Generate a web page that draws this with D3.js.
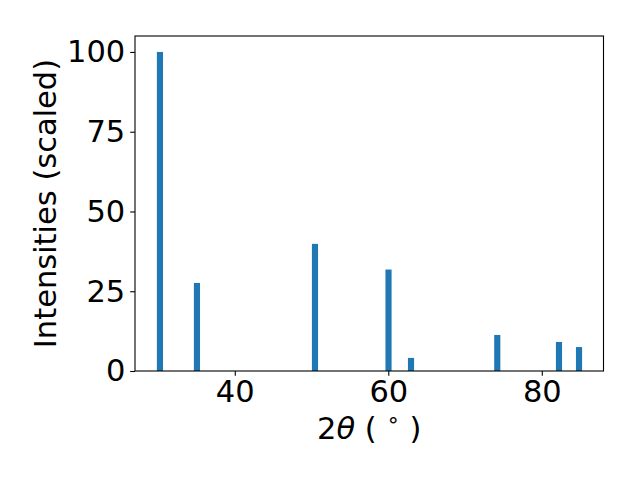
<!DOCTYPE html>
<html><head><meta charset="utf-8">
<script src="https://cdn.jsdelivr.net/npm/d3@7"></script>
<style>body{margin:0;background:#fff}svg{display:block}text{font-family:"DejaVu Sans",sans-serif}</style>
</head><body>
<svg id="c" width="640" height="480"></svg>
<script>
const angles = [30.25, 35.07, 50.45, 60.03, 62.96, 74.2, 82.24, 84.85];
const intensities = [100, 27.6, 39.85, 31.8, 4.1, 11.3, 9.1, 7.5];
const xTicks = [40, 60, 80];
const yTicks = [0, 25, 50, 75, 100];
const yLabel = "Intensities (scaled)";
const barWidth = 0.8;

const svg = d3.select("#c");
const m = {left: 135, right: 603.5, top: 36, bottom: 371};
const fs = 30.5;
const x = d3.scaleLinear().domain([27.0, 88.04]).range([m.left, m.right]);
const y = d3.scaleLinear().domain([0, 105]).range([m.bottom, m.top]);

svg.append("g").selectAll("rect").data(angles).join("rect")
  .attr("x", (d) => x(d - barWidth / 2))
  .attr("width", (d) => x(d + barWidth / 2) - x(d - barWidth / 2))
  .attr("y", (d, i) => y(intensities[i]))
  .attr("height", (d, i) => y(0) - y(intensities[i]))
  .attr("fill", "#1f77b4");

const xAxis = svg.append("g").attr("transform", `translate(0,${m.bottom})`)
  .call(d3.axisBottom(x).tickValues(xTicks).tickSize(4.86).tickPadding(4.86).tickSizeOuter(0));
const yAxis = svg.append("g").attr("transform", `translate(${m.left},0)`)
  .call(d3.axisLeft(y).tickValues(yTicks).tickSize(4.86).tickPadding(4.86).tickSizeOuter(0));
[xAxis, yAxis].forEach(a => {
  a.select(".domain").remove();
  a.selectAll("line").attr("stroke", "#000").attr("stroke-width", 1.1);
  a.selectAll("text").attr("font-size", fs).attr("fill", "#000").attr("font-family", '"DejaVu Sans"');
});

svg.append("rect").attr("x", m.left).attr("y", m.top)
  .attr("width", m.right - m.left).attr("height", m.bottom - m.top)
  .attr("fill", "none").attr("stroke", "#000").attr("stroke-width", 1.1);

const xl = svg.append("text").attr("x", (m.left + m.right) / 2).attr("y", 439)
  .attr("text-anchor", "middle").attr("font-size", fs);
xl.append("tspan").text("2");
xl.append("tspan").attr("font-style", "italic").text("θ");
xl.append("tspan").text(" ( ");
xl.append("tspan").attr("font-size", fs * 0.7).attr("dy", -12).text("∘");
xl.append("tspan").attr("dy", 12).text(" )");

svg.append("text").attr("transform", `translate(56,${(m.top + m.bottom) / 2}) rotate(-90)`)
  .attr("text-anchor", "middle").attr("font-size", fs).text(yLabel);
</script>
</body></html>
